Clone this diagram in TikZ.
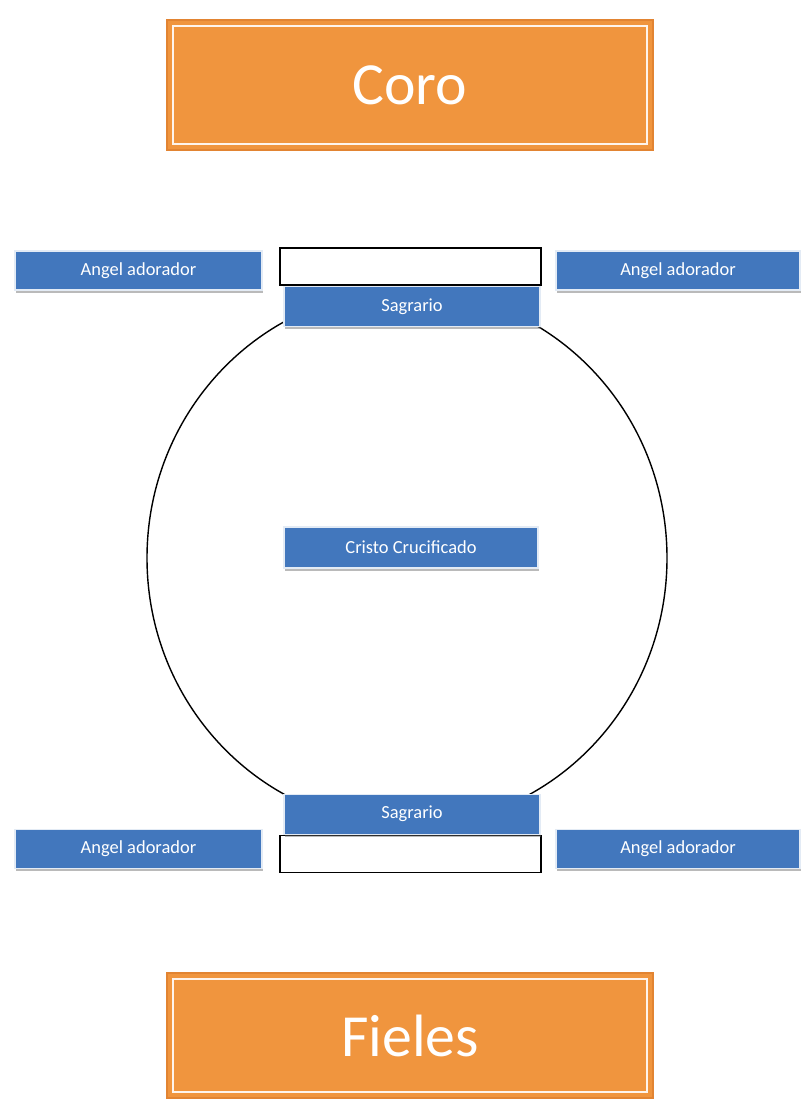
\documentclass[tikz,border=0pt]{standalone}
\usepackage{fontspec}
\setmainfont{Carlito}
\usetikzlibrary{positioning,shadows}

\definecolor{bannerorange}{RGB}{240,149,62}
\definecolor{banneredge}{RGB}{226,132,50}
\definecolor{slotblue}{RGB}{66,119,189}

\begin{document}
\begin{tikzpicture}[node distance=0cm,
    banner/.style={rectangle, fill=bannerorange, draw=banneredge, line width=0.8pt,
        minimum width=9.72cm, text=white, font=\fontsize{34}{40}\selectfont, inner sep=0pt},
    inner frame/.style={draw=white!90!bannerorange, line width=1.2pt},
    slot/.style={rectangle, fill=slotblue, draw=white!85!slotblue, line width=0.6pt,
        minimum height=0.8cm, text=white, font=\fontsize{10.5}{12}\selectfont,
        drop shadow={shadow xshift=0.6pt, shadow yshift=-1.6pt, opacity=0.45, fill=black!60}},
    blank/.style={rectangle, draw=black, line width=0.9pt, fill=white,
        minimum width=5.22cm, minimum height=0.74cm}]
    \useasboundingbox (0,0) rectangle (16.02,-22);

    % ring round the altar, half hidden by the boxes
    \coordinate (ringc) at (8.14,-11.16);
    \draw[line width=0.8pt] (ringc) ellipse [x radius=5.2cm, y radius=5.36cm];

    \node[banner, minimum height=2.6cm] (coro) at (8.2,-1.7) {Coro};
    \node[banner, minimum height=2.5cm] (fieles) at (8.2,-20.71) {Fieles};
    \draw[inner frame] ([shift={(0.13,-0.13)}]coro.north west) rectangle ([shift={(-0.13,0.13)}]coro.south east);
    \draw[inner frame] ([shift={(0.13,-0.13)}]fieles.north west) rectangle ([shift={(-0.13,0.13)}]fieles.south east);

    \node[blank] (blankT) at (8.21,-5.33) {};
    \node[blank] (blankB) at (8.21,-17.08) {};
    \node[slot, minimum width=5.12cm, below=0cm of blankT.south, xshift=0.03cm] (sagT) {Sagrario};
    \node[slot, minimum width=5.12cm, above=0cm of blankB.north, xshift=0.03cm] (sagB) {Sagrario};

    \node[slot, minimum width=5.08cm, minimum height=0.82cm] (cristo) at (8.22,-10.95) {Cristo Crucificado};

    \node[slot, minimum width=4.94cm, minimum height=0.78cm] (angelTL) at (2.77,-5.41) {Angel adorador};
    \node[slot, minimum width=4.88cm, minimum height=0.78cm] (angelTR) at (13.56,-5.41) {Angel adorador};
    \node[slot, minimum width=4.94cm, minimum height=0.78cm] (angelBL) at (2.77,-16.98) {Angel adorador};
    \node[slot, minimum width=4.88cm, minimum height=0.78cm] (angelBR) at (13.56,-16.98) {Angel adorador};
\end{tikzpicture}
\end{document}
